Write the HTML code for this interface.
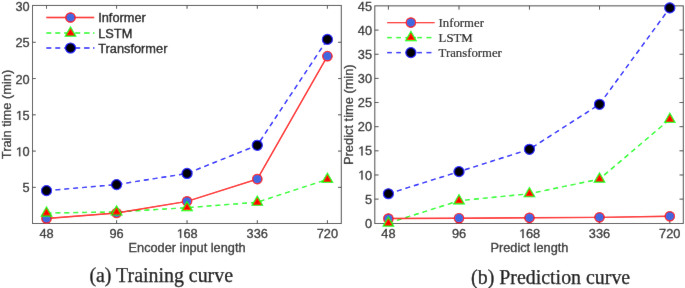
<!DOCTYPE html>
<html><head><meta charset="utf-8"><style>
html,body{margin:0;padding:0;background:#fff;}
body{width:685px;height:288px;overflow:hidden;}
svg{display:block;will-change:transform;}
</style></head><body>
<svg width="685" height="288" viewBox="0 0 685 288">
<defs><filter id="soft" x="0" y="0" width="685" height="288" filterUnits="userSpaceOnUse"><feConvolveMatrix order="3" kernelMatrix="0.0100 0.0400 0.0100 0.0400 0.8000 0.0400 0.0100 0.0400 0.0100" edgeMode="duplicate"/></filter></defs>
<g filter="url(#soft)">
<rect width="685" height="288" fill="#fff"/>
<rect x="32.5" y="5.45" width="308.80" height="218.05" fill="none" stroke="#464646" stroke-width="1"/>
<line x1="46.50" y1="223.5" x2="46.50" y2="220.2" stroke="#464646" stroke-width="1"/>
<line x1="46.50" y1="5.45" x2="46.50" y2="8.75" stroke="#464646" stroke-width="1"/>
<line x1="116.60" y1="223.5" x2="116.60" y2="220.2" stroke="#464646" stroke-width="1"/>
<line x1="116.60" y1="5.45" x2="116.60" y2="8.75" stroke="#464646" stroke-width="1"/>
<line x1="187.05" y1="223.5" x2="187.05" y2="220.2" stroke="#464646" stroke-width="1"/>
<line x1="187.05" y1="5.45" x2="187.05" y2="8.75" stroke="#464646" stroke-width="1"/>
<line x1="257.30" y1="223.5" x2="257.30" y2="220.2" stroke="#464646" stroke-width="1"/>
<line x1="257.30" y1="5.45" x2="257.30" y2="8.75" stroke="#464646" stroke-width="1"/>
<line x1="327.40" y1="223.5" x2="327.40" y2="220.2" stroke="#464646" stroke-width="1"/>
<line x1="327.40" y1="5.45" x2="327.40" y2="8.75" stroke="#464646" stroke-width="1"/>
<line x1="32.5" y1="187.36" x2="35.8" y2="187.36" stroke="#464646" stroke-width="1"/>
<line x1="341.3" y1="187.36" x2="338.0" y2="187.36" stroke="#464646" stroke-width="1"/>
<line x1="32.5" y1="151.09" x2="35.8" y2="151.09" stroke="#464646" stroke-width="1"/>
<line x1="341.3" y1="151.09" x2="338.0" y2="151.09" stroke="#464646" stroke-width="1"/>
<line x1="32.5" y1="114.82" x2="35.8" y2="114.82" stroke="#464646" stroke-width="1"/>
<line x1="341.3" y1="114.82" x2="338.0" y2="114.82" stroke="#464646" stroke-width="1"/>
<line x1="32.5" y1="78.55" x2="35.8" y2="78.55" stroke="#464646" stroke-width="1"/>
<line x1="341.3" y1="78.55" x2="338.0" y2="78.55" stroke="#464646" stroke-width="1"/>
<line x1="32.5" y1="42.28" x2="35.8" y2="42.28" stroke="#464646" stroke-width="1"/>
<line x1="341.3" y1="42.28" x2="338.0" y2="42.28" stroke="#464646" stroke-width="1"/>
<text x="46.50" y="238.00" text-anchor="middle" font-family='"Liberation Sans", sans-serif' font-size="12.8" fill="#262626" stroke="#262626" stroke-width="0.28">48</text>
<text x="116.60" y="238.00" text-anchor="middle" font-family='"Liberation Sans", sans-serif' font-size="12.8" fill="#262626" stroke="#262626" stroke-width="0.28">96</text>
<text x="187.05" y="238.00" text-anchor="middle" font-family='"Liberation Sans", sans-serif' font-size="12.8" fill="#262626" stroke="#262626" stroke-width="0.28"> 68</text>
<path transform="translate(176.372,238.000) scale(0.006250,-0.006250)" d="M585,0 L585,1237 L267,1010 L267,1180 L600,1409 L766,1409 L766,0 Z" fill="#262626" stroke="#262626" stroke-width="44.800000000000004"/>
<text x="257.30" y="238.00" text-anchor="middle" font-family='"Liberation Sans", sans-serif' font-size="12.8" fill="#262626" stroke="#262626" stroke-width="0.28">336</text>
<text x="327.40" y="238.00" text-anchor="middle" font-family='"Liberation Sans", sans-serif' font-size="12.8" fill="#262626" stroke="#262626" stroke-width="0.28">720</text>
<text x="29.70" y="192.46" text-anchor="end" font-family='"Liberation Sans", sans-serif' font-size="12.8" fill="#262626" stroke="#262626" stroke-width="0.28">5</text>
<text x="29.70" y="156.19" text-anchor="end" font-family='"Liberation Sans", sans-serif' font-size="12.8" fill="#262626" stroke="#262626" stroke-width="0.28"> 0</text>
<path transform="translate(15.462,156.190) scale(0.006250,-0.006250)" d="M585,0 L585,1237 L267,1010 L267,1180 L600,1409 L766,1409 L766,0 Z" fill="#262626" stroke="#262626" stroke-width="44.800000000000004"/>
<text x="29.70" y="119.92" text-anchor="end" font-family='"Liberation Sans", sans-serif' font-size="12.8" fill="#262626" stroke="#262626" stroke-width="0.28"> 5</text>
<path transform="translate(15.462,119.920) scale(0.006250,-0.006250)" d="M585,0 L585,1237 L267,1010 L267,1180 L600,1409 L766,1409 L766,0 Z" fill="#262626" stroke="#262626" stroke-width="44.800000000000004"/>
<text x="29.70" y="83.65" text-anchor="end" font-family='"Liberation Sans", sans-serif' font-size="12.8" fill="#262626" stroke="#262626" stroke-width="0.28">20</text>
<text x="29.70" y="47.38" text-anchor="end" font-family='"Liberation Sans", sans-serif' font-size="12.8" fill="#262626" stroke="#262626" stroke-width="0.28">25</text>
<text x="29.70" y="11.11" text-anchor="end" font-family='"Liberation Sans", sans-serif' font-size="12.8" fill="#262626" stroke="#262626" stroke-width="0.28">30</text>
<text transform="translate(10.7,114.47) rotate(-90)" text-anchor="middle" font-family='"Liberation Sans", sans-serif' font-size="12.85" fill="#262626" stroke="#262626" stroke-width="0.28">Train time (min)</text>
<text x="187.05" y="252.0" text-anchor="middle" font-family='"Liberation Sans", sans-serif' font-size="12.75" fill="#262626" stroke="#262626" stroke-width="0.28">Encoder input length</text>
<text x="89.4" y="282.35" font-family='"Liberation Serif", serif' font-size="19.9" fill="#000" stroke="#000" stroke-width="0.25">(a) Training curve</text>
<polyline points="46.50,190.62 116.60,184.60 187.05,173.43 257.30,145.29 327.40,39.38" fill="none" stroke="#0000ff" stroke-width="1.4" stroke-dasharray="5 3.9"/>
<polyline points="46.50,213.04 116.60,211.95 187.05,207.67 257.30,202.23 327.40,179.38" fill="none" stroke="#00ff00" stroke-width="1.4" stroke-dasharray="5 3.9"/>
<polyline points="46.50,218.48 116.60,212.97 187.05,201.36 257.30,179.09 327.40,56.14" fill="none" stroke="#ff0000" stroke-width="1.4"/>
<circle cx="46.50" cy="190.62" r="5.0" fill="#000000" stroke="#0000ff" stroke-width="1.2"/>
<circle cx="116.60" cy="184.60" r="5.0" fill="#000000" stroke="#0000ff" stroke-width="1.2"/>
<circle cx="187.05" cy="173.43" r="5.0" fill="#000000" stroke="#0000ff" stroke-width="1.2"/>
<circle cx="257.30" cy="145.29" r="5.0" fill="#000000" stroke="#0000ff" stroke-width="1.2"/>
<circle cx="327.40" cy="39.38" r="5.0" fill="#000000" stroke="#0000ff" stroke-width="1.2"/>
<circle cx="46.50" cy="218.48" r="4.7" fill="#4169e1" stroke="#ff0000" stroke-width="1.2"/>
<circle cx="116.60" cy="212.97" r="4.7" fill="#4169e1" stroke="#ff0000" stroke-width="1.2"/>
<circle cx="187.05" cy="201.36" r="4.7" fill="#4169e1" stroke="#ff0000" stroke-width="1.2"/>
<circle cx="257.30" cy="179.09" r="4.7" fill="#4169e1" stroke="#ff0000" stroke-width="1.2"/>
<circle cx="327.40" cy="56.14" r="4.7" fill="#4169e1" stroke="#ff0000" stroke-width="1.2"/>
<path d="M46.50,206.97 L41.25,216.07 L51.75,216.07 Z" fill="#ff0000" stroke="#00ff00" stroke-width="1.2" stroke-linejoin="miter"/>
<path d="M116.60,205.88 L111.35,214.98 L121.85,214.98 Z" fill="#ff0000" stroke="#00ff00" stroke-width="1.2" stroke-linejoin="miter"/>
<path d="M187.05,201.60 L181.80,210.70 L192.30,210.70 Z" fill="#ff0000" stroke="#00ff00" stroke-width="1.2" stroke-linejoin="miter"/>
<path d="M257.30,196.16 L252.05,205.26 L262.55,205.26 Z" fill="#ff0000" stroke="#00ff00" stroke-width="1.2" stroke-linejoin="miter"/>
<path d="M327.40,173.31 L322.15,182.41 L332.65,182.41 Z" fill="#ff0000" stroke="#00ff00" stroke-width="1.2" stroke-linejoin="miter"/>
<line x1="46.3" y1="17.5" x2="94.2" y2="17.5" stroke="#ff0000" stroke-width="1.4"/>
<circle cx="70.50" cy="17.50" r="4.7" fill="#4169e1" stroke="#ff0000" stroke-width="1.2"/>
<text x="98.2" y="22.0" font-family='"Liberation Sans", sans-serif' font-size="12.8" fill="#000" stroke="#000" stroke-width="0.28">Informer</text>
<line x1="46.3" y1="33" x2="51.3" y2="33" stroke="#00ff00" stroke-width="1.4"/>
<line x1="55.25" y1="33" x2="60.25" y2="33" stroke="#00ff00" stroke-width="1.4"/>
<line x1="64.2" y1="33" x2="69.2" y2="33" stroke="#00ff00" stroke-width="1.4"/>
<line x1="75.2" y1="33" x2="80.2" y2="33" stroke="#00ff00" stroke-width="1.4"/>
<line x1="84" y1="33" x2="89.5" y2="33" stroke="#00ff00" stroke-width="1.4"/>
<line x1="93.1" y1="33" x2="94.4" y2="33" stroke="#00ff00" stroke-width="1.4"/>
<path d="M70.50,26.93 L65.25,36.03 L75.75,36.03 Z" fill="#ff0000" stroke="#00ff00" stroke-width="1.2" stroke-linejoin="miter"/>
<text x="98.2" y="37.5" font-family='"Liberation Sans", sans-serif' font-size="12.8" fill="#000" stroke="#000" stroke-width="0.28">LSTM</text>
<line x1="46.3" y1="48" x2="51.3" y2="48" stroke="#0000ff" stroke-width="1.4"/>
<line x1="55.25" y1="48" x2="60.25" y2="48" stroke="#0000ff" stroke-width="1.4"/>
<line x1="64.2" y1="48" x2="69.2" y2="48" stroke="#0000ff" stroke-width="1.4"/>
<line x1="75.2" y1="48" x2="80.2" y2="48" stroke="#0000ff" stroke-width="1.4"/>
<line x1="84" y1="48" x2="89.5" y2="48" stroke="#0000ff" stroke-width="1.4"/>
<line x1="93.1" y1="48" x2="94.4" y2="48" stroke="#0000ff" stroke-width="1.4"/>
<circle cx="70.50" cy="48.00" r="5.0" fill="#000000" stroke="#0000ff" stroke-width="1.2"/>
<text x="98.2" y="52.5" font-family='"Liberation Sans", sans-serif' font-size="12.8" fill="#000" stroke="#000" stroke-width="0.28">Transformer</text>
<rect x="374.8" y="5.85" width="308.50" height="217.65" fill="none" stroke="#464646" stroke-width="1"/>
<line x1="388.40" y1="223.5" x2="388.40" y2="219.7" stroke="#464646" stroke-width="1"/>
<line x1="388.40" y1="5.85" x2="388.40" y2="9.649999999999999" stroke="#464646" stroke-width="1"/>
<line x1="459.00" y1="223.5" x2="459.00" y2="219.7" stroke="#464646" stroke-width="1"/>
<line x1="459.00" y1="5.85" x2="459.00" y2="9.649999999999999" stroke="#464646" stroke-width="1"/>
<line x1="529.45" y1="223.5" x2="529.45" y2="219.7" stroke="#464646" stroke-width="1"/>
<line x1="529.45" y1="5.85" x2="529.45" y2="9.649999999999999" stroke="#464646" stroke-width="1"/>
<line x1="599.50" y1="223.5" x2="599.50" y2="219.7" stroke="#464646" stroke-width="1"/>
<line x1="599.50" y1="5.85" x2="599.50" y2="9.649999999999999" stroke="#464646" stroke-width="1"/>
<line x1="669.80" y1="223.5" x2="669.80" y2="219.7" stroke="#464646" stroke-width="1"/>
<line x1="669.80" y1="5.85" x2="669.80" y2="9.649999999999999" stroke="#464646" stroke-width="1"/>
<line x1="374.8" y1="199.11" x2="378.6" y2="199.11" stroke="#464646" stroke-width="1"/>
<line x1="683.3" y1="199.11" x2="679.5" y2="199.11" stroke="#464646" stroke-width="1"/>
<line x1="374.8" y1="174.97" x2="378.6" y2="174.97" stroke="#464646" stroke-width="1"/>
<line x1="683.3" y1="174.97" x2="679.5" y2="174.97" stroke="#464646" stroke-width="1"/>
<line x1="374.8" y1="150.82" x2="378.6" y2="150.82" stroke="#464646" stroke-width="1"/>
<line x1="683.3" y1="150.82" x2="679.5" y2="150.82" stroke="#464646" stroke-width="1"/>
<line x1="374.8" y1="126.68" x2="378.6" y2="126.68" stroke="#464646" stroke-width="1"/>
<line x1="683.3" y1="126.68" x2="679.5" y2="126.68" stroke="#464646" stroke-width="1"/>
<line x1="374.8" y1="102.53" x2="378.6" y2="102.53" stroke="#464646" stroke-width="1"/>
<line x1="683.3" y1="102.53" x2="679.5" y2="102.53" stroke="#464646" stroke-width="1"/>
<line x1="374.8" y1="78.39" x2="378.6" y2="78.39" stroke="#464646" stroke-width="1"/>
<line x1="683.3" y1="78.39" x2="679.5" y2="78.39" stroke="#464646" stroke-width="1"/>
<line x1="374.8" y1="54.25" x2="378.6" y2="54.25" stroke="#464646" stroke-width="1"/>
<line x1="683.3" y1="54.25" x2="679.5" y2="54.25" stroke="#464646" stroke-width="1"/>
<line x1="374.8" y1="30.10" x2="378.6" y2="30.10" stroke="#464646" stroke-width="1"/>
<line x1="683.3" y1="30.10" x2="679.5" y2="30.10" stroke="#464646" stroke-width="1"/>
<text x="388.40" y="238.00" text-anchor="middle" font-family='"Liberation Sans", sans-serif' font-size="12.8" fill="#262626" stroke="#262626" stroke-width="0.28">48</text>
<text x="459.00" y="238.00" text-anchor="middle" font-family='"Liberation Sans", sans-serif' font-size="12.8" fill="#262626" stroke="#262626" stroke-width="0.28">96</text>
<text x="529.45" y="238.00" text-anchor="middle" font-family='"Liberation Sans", sans-serif' font-size="12.8" fill="#262626" stroke="#262626" stroke-width="0.28"> 68</text>
<path transform="translate(518.772,238.000) scale(0.006250,-0.006250)" d="M585,0 L585,1237 L267,1010 L267,1180 L600,1409 L766,1409 L766,0 Z" fill="#262626" stroke="#262626" stroke-width="44.800000000000004"/>
<text x="599.50" y="238.00" text-anchor="middle" font-family='"Liberation Sans", sans-serif' font-size="12.8" fill="#262626" stroke="#262626" stroke-width="0.28">336</text>
<text x="669.80" y="238.00" text-anchor="middle" font-family='"Liberation Sans", sans-serif' font-size="12.8" fill="#262626" stroke="#262626" stroke-width="0.28">720</text>
<text x="372.00" y="227.86" text-anchor="end" font-family='"Liberation Sans", sans-serif' font-size="12.8" fill="#262626" stroke="#262626" stroke-width="0.28">0</text>
<text x="372.00" y="203.71" text-anchor="end" font-family='"Liberation Sans", sans-serif' font-size="12.8" fill="#262626" stroke="#262626" stroke-width="0.28">5</text>
<text x="372.00" y="179.57" text-anchor="end" font-family='"Liberation Sans", sans-serif' font-size="12.8" fill="#262626" stroke="#262626" stroke-width="0.28"> 0</text>
<path transform="translate(357.762,179.570) scale(0.006250,-0.006250)" d="M585,0 L585,1237 L267,1010 L267,1180 L600,1409 L766,1409 L766,0 Z" fill="#262626" stroke="#262626" stroke-width="44.800000000000004"/>
<text x="372.00" y="155.42" text-anchor="end" font-family='"Liberation Sans", sans-serif' font-size="12.8" fill="#262626" stroke="#262626" stroke-width="0.28"> 5</text>
<path transform="translate(357.762,155.425) scale(0.006250,-0.006250)" d="M585,0 L585,1237 L267,1010 L267,1180 L600,1409 L766,1409 L766,0 Z" fill="#262626" stroke="#262626" stroke-width="44.800000000000004"/>
<text x="372.00" y="131.28" text-anchor="end" font-family='"Liberation Sans", sans-serif' font-size="12.8" fill="#262626" stroke="#262626" stroke-width="0.28">20</text>
<text x="372.00" y="107.13" text-anchor="end" font-family='"Liberation Sans", sans-serif' font-size="12.8" fill="#262626" stroke="#262626" stroke-width="0.28">25</text>
<text x="372.00" y="82.99" text-anchor="end" font-family='"Liberation Sans", sans-serif' font-size="12.8" fill="#262626" stroke="#262626" stroke-width="0.28">30</text>
<text x="372.00" y="58.85" text-anchor="end" font-family='"Liberation Sans", sans-serif' font-size="12.8" fill="#262626" stroke="#262626" stroke-width="0.28">35</text>
<text x="372.00" y="34.70" text-anchor="end" font-family='"Liberation Sans", sans-serif' font-size="12.8" fill="#262626" stroke="#262626" stroke-width="0.28">40</text>
<text x="372.00" y="10.56" text-anchor="end" font-family='"Liberation Sans", sans-serif' font-size="12.8" fill="#262626" stroke="#262626" stroke-width="0.28">45</text>
<text transform="translate(353,114.67) rotate(-90)" text-anchor="middle" font-family='"Liberation Sans", sans-serif' font-size="12.85" fill="#262626" stroke="#262626" stroke-width="0.28">Predict time (min)</text>
<text x="529.45" y="252.0" text-anchor="middle" font-family='"Liberation Sans", sans-serif' font-size="12.75" fill="#262626" stroke="#262626" stroke-width="0.28">Predict length</text>
<text x="471.1" y="283.6" font-family='"Liberation Serif", serif' font-size="19.9" fill="#000" stroke="#000" stroke-width="0.25">(b) Prediction curve</text>
<polyline points="388.40,193.75 459.00,171.64 529.45,149.28 599.50,104.32 669.80,7.89" fill="none" stroke="#0000ff" stroke-width="1.4" stroke-dasharray="5 3.9"/>
<polyline points="388.40,223.07 459.00,200.76 529.45,193.71 599.50,179.07 669.80,119.39" fill="none" stroke="#00ff00" stroke-width="1.4" stroke-dasharray="5 3.9"/>
<polyline points="388.40,218.53 459.00,218.19 529.45,217.80 599.50,217.37 669.80,216.26" fill="none" stroke="#ff0000" stroke-width="1.4"/>
<circle cx="388.40" cy="193.75" r="5.0" fill="#000000" stroke="#0000ff" stroke-width="1.2"/>
<circle cx="459.00" cy="171.64" r="5.0" fill="#000000" stroke="#0000ff" stroke-width="1.2"/>
<circle cx="529.45" cy="149.28" r="5.0" fill="#000000" stroke="#0000ff" stroke-width="1.2"/>
<circle cx="599.50" cy="104.32" r="5.0" fill="#000000" stroke="#0000ff" stroke-width="1.2"/>
<circle cx="669.80" cy="7.89" r="5.0" fill="#000000" stroke="#0000ff" stroke-width="1.2"/>
<circle cx="388.40" cy="218.53" r="4.7" fill="#4169e1" stroke="#ff0000" stroke-width="1.2"/>
<circle cx="459.00" cy="218.19" r="4.7" fill="#4169e1" stroke="#ff0000" stroke-width="1.2"/>
<circle cx="529.45" cy="217.80" r="4.7" fill="#4169e1" stroke="#ff0000" stroke-width="1.2"/>
<circle cx="599.50" cy="217.37" r="4.7" fill="#4169e1" stroke="#ff0000" stroke-width="1.2"/>
<circle cx="669.80" cy="216.26" r="4.7" fill="#4169e1" stroke="#ff0000" stroke-width="1.2"/>
<path d="M388.40,217.00 L383.15,226.10 L393.65,226.10 Z" fill="#ff0000" stroke="#00ff00" stroke-width="1.2" stroke-linejoin="miter"/>
<path d="M459.00,194.69 L453.75,203.79 L464.25,203.79 Z" fill="#ff0000" stroke="#00ff00" stroke-width="1.2" stroke-linejoin="miter"/>
<path d="M529.45,187.64 L524.20,196.74 L534.70,196.74 Z" fill="#ff0000" stroke="#00ff00" stroke-width="1.2" stroke-linejoin="miter"/>
<path d="M599.50,173.00 L594.25,182.10 L604.75,182.10 Z" fill="#ff0000" stroke="#00ff00" stroke-width="1.2" stroke-linejoin="miter"/>
<path d="M669.80,113.32 L664.55,122.42 L675.05,122.42 Z" fill="#ff0000" stroke="#00ff00" stroke-width="1.2" stroke-linejoin="miter"/>
<line x1="387.1" y1="22.6" x2="434.6" y2="22.6" stroke="#ff0000" stroke-width="1.4"/>
<circle cx="410.90" cy="22.60" r="4.7" fill="#4169e1" stroke="#ff0000" stroke-width="1.2"/>
<text x="438.6" y="27.1" font-family='"Liberation Serif", serif' font-size="12.75" fill="#000" stroke="#000" stroke-width="0.15">Informer</text>
<line x1="387.1" y1="37.6" x2="391.8" y2="37.6" stroke="#00ff00" stroke-width="1.4"/>
<line x1="396.3" y1="37.6" x2="400.9" y2="37.6" stroke="#00ff00" stroke-width="1.4"/>
<line x1="405.4" y1="37.6" x2="410" y2="37.6" stroke="#00ff00" stroke-width="1.4"/>
<line x1="412" y1="37.6" x2="416" y2="37.6" stroke="#00ff00" stroke-width="1.4"/>
<line x1="417.3" y1="37.6" x2="422" y2="37.6" stroke="#00ff00" stroke-width="1.4"/>
<line x1="426.5" y1="37.6" x2="431.4" y2="37.6" stroke="#00ff00" stroke-width="1.4"/>
<path d="M410.90,31.53 L405.65,40.63 L416.15,40.63 Z" fill="#ff0000" stroke="#00ff00" stroke-width="1.2" stroke-linejoin="miter"/>
<text x="438.6" y="42.1" font-family='"Liberation Serif", serif' font-size="12.75" fill="#000" stroke="#000" stroke-width="0.15">LSTM</text>
<line x1="387.1" y1="52.6" x2="391.8" y2="52.6" stroke="#0000ff" stroke-width="1.4"/>
<line x1="396.3" y1="52.6" x2="400.9" y2="52.6" stroke="#0000ff" stroke-width="1.4"/>
<line x1="405.4" y1="52.6" x2="410" y2="52.6" stroke="#0000ff" stroke-width="1.4"/>
<line x1="412" y1="52.6" x2="416" y2="52.6" stroke="#0000ff" stroke-width="1.4"/>
<line x1="417.3" y1="52.6" x2="422" y2="52.6" stroke="#0000ff" stroke-width="1.4"/>
<line x1="426.5" y1="52.6" x2="431.4" y2="52.6" stroke="#0000ff" stroke-width="1.4"/>
<circle cx="410.90" cy="52.60" r="5.0" fill="#000000" stroke="#0000ff" stroke-width="1.2"/>
<text x="438.6" y="57.1" font-family='"Liberation Serif", serif' font-size="12.75" fill="#000" stroke="#000" stroke-width="0.15">Transformer</text>
</g>
</svg>
</body></html>
